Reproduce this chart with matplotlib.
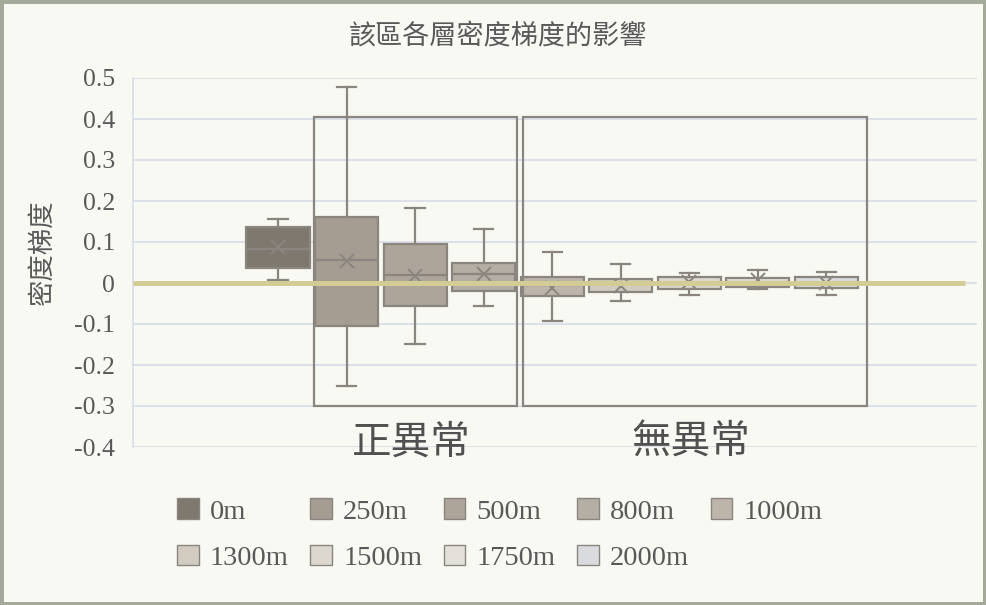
import matplotlib
matplotlib.use("Agg")
import matplotlib.pyplot as plt
from matplotlib.patches import Rectangle, Patch
import numpy as np

# Density gradient by layer: five-number summary plus mean for each depth
depths = ["0m", "250m", "500m", "800m", "1000m", "1300m", "1500m", "1750m", "2000m"]
whisker_low = [0.008, -0.252, -0.148, -0.057, -0.092, -0.045, -0.029, -0.015, -0.029]
quartile_1 = [0.036, -0.105, -0.057, -0.019, -0.031, -0.021, -0.015, -0.009, -0.011]
medians = [0.082, 0.057, 0.019, 0.022, -0.005, -0.003, 0.000, 0.003, 0.001]
means = [0.089, 0.054, 0.016, 0.022, -0.012, -0.008, 0.002, 0.008, 0.000]
quartile_3 = [0.137, 0.160, 0.094, 0.050, 0.015, 0.009, 0.014, 0.011, 0.015]
whisker_high = [0.157, 0.477, 0.182, 0.131, 0.076, 0.046, 0.025, 0.032, 0.027]

y_ticks = [0.5, 0.4, 0.3, 0.2, 0.1, 0, -0.1, -0.2, -0.3, -0.4]
y_tick_labels = ["0.5", "0.4", "0.3", "0.2", "0.1", "0", "-0.1", "-0.2", "-0.3", "-0.4"]

title = "該區各層密度梯度的影響"
y_label = "密度梯度"
group_labels = ["正異常", "無異常"]

box_colors = ["#7F786F", "#A59D92", "#ADA59A", "#B5AEA4", "#BDB5AA",
              "#D1CBC0", "#DCD8D0", "#E4E1DB", "#D9DBDF"]
edge_color = "#8A857E"
text_color = "#595959"
grid_color = "#D6DBE8"
zero_color = "#D3CD95"

cjk = ["Noto Sans CJK TC", "DejaVu Sans"]
serif = ["Liberation Serif", "DejaVu Serif"]

fig = plt.figure(figsize=(9.86, 6.05), dpi=100)
fig.patch.set_facecolor("#F8F9F3")
fig.patch.set_edgecolor("#A3AA9A")
fig.patch.set_linewidth(5)

ax = fig.add_axes([133 / 986, 1 - 447 / 605, 844 / 986, 369 / 605])
ax.set_facecolor("none")

positions = np.arange(len(depths))
stats = [
    dict(label=d, whislo=lo, q1=a, med=m, mean=mu, q3=b, whishi=hi, fliers=[])
    for d, lo, a, m, mu, b, hi in zip(depths, whisker_low, quartile_1, medians,
                                      means, quartile_3, whisker_high)
]
parts = ax.bxp(
    stats, positions=positions, widths=0.92, capwidths=0.28,
    showmeans=True, meanline=False, patch_artist=True, showfliers=False,
    boxprops=dict(edgecolor=edge_color, linewidth=1.6),
    medianprops=dict(color=edge_color, linewidth=1.6),
    whiskerprops=dict(color=edge_color, linewidth=1.6),
    capprops=dict(color=edge_color, linewidth=1.6),
    meanprops=dict(marker="x", markeredgecolor=edge_color, markersize=10,
                   markeredgewidth=1.4),
    zorder=3,
)
for box, c in zip(parts["boxes"], box_colors):
    box.set_facecolor(c)

# zero reference line drawn over the boxes
ax.plot([-2.12, 10.03], [0, 0], color=zero_color, linewidth=3.6,
        solid_capstyle="butt", zorder=6)

# outlines grouping the anomalous and normal layers
ax.add_patch(Rectangle((0.526, -0.300), 3.49 - 0.526, 0.706, fill=False,
                       edgecolor=edge_color, linewidth=1.6, zorder=5))
ax.add_patch(Rectangle((3.577, -0.300), 8.60 - 3.577, 0.706, fill=False,
                       edgecolor=edge_color, linewidth=1.6, zorder=5))

ax.set_xlim(-2.116, 10.2)
ax.set_ylim(-0.4, 0.5)
ax.set_yticks(y_ticks)
ax.set_yticklabels(y_tick_labels, family=serif, fontsize=18.5, color=text_color)
ax.set_xticks([])
ax.tick_params(axis="y", length=0, pad=13)
ax.yaxis.grid(True, color=grid_color, linewidth=1.2, zorder=0)
ax.set_axisbelow(True)
for side in ["top", "right", "bottom"]:
    ax.spines[side].set_visible(False)
ax.spines["left"].set_color(grid_color)
ax.spines["left"].set_linewidth(1.2)
ax.spines["left"].set_zorder(0)

fig.text(498 / 986, 1 - 36 / 605, title, ha="center", va="center",
         fontsize=19.5, family=cjk, color=text_color)
fig.text(42 / 986, 1 - 252 / 605, y_label, ha="center", va="center",
         rotation=90, fontsize=19, family=cjk, color=text_color)

ax.text(1.95, -0.39, group_labels[0], ha="center", va="center", fontsize=28.5,
        family=cjk, fontweight="light", color="#505050")
ax.text(6.02, -0.39, group_labels[1], ha="center", va="center", fontsize=28.5,
        family=cjk, fontweight="light", color="#505050")

# legend laid out row by row: matplotlib fills columns first, so interleave
ncol = 5
order = []
for col in range(ncol):
    for row in range(2):
        idx = row * ncol + col
        if idx < len(depths):
            order.append(idx)
handles = [Patch(facecolor=box_colors[i], edgecolor=edge_color, linewidth=1.0)
           for i in order]
labels = [depths[i] for i in order]
leg = fig.legend(handles, labels, ncol=ncol, loc="upper left",
                 bbox_to_anchor=(163 / 986, 1 - 484 / 605), frameon=False,
                 prop=dict(family=serif, size=20.5), handlelength=0.75,
                 handleheight=0.75, handletextpad=0.4, columnspacing=0.76,
                 labelspacing=0.70, borderpad=0)
for t in leg.get_texts():
    t.set_color(text_color)

fig.savefig("out.png", dpi=100, facecolor=fig.get_facecolor(),
            edgecolor=fig.patch.get_edgecolor())
